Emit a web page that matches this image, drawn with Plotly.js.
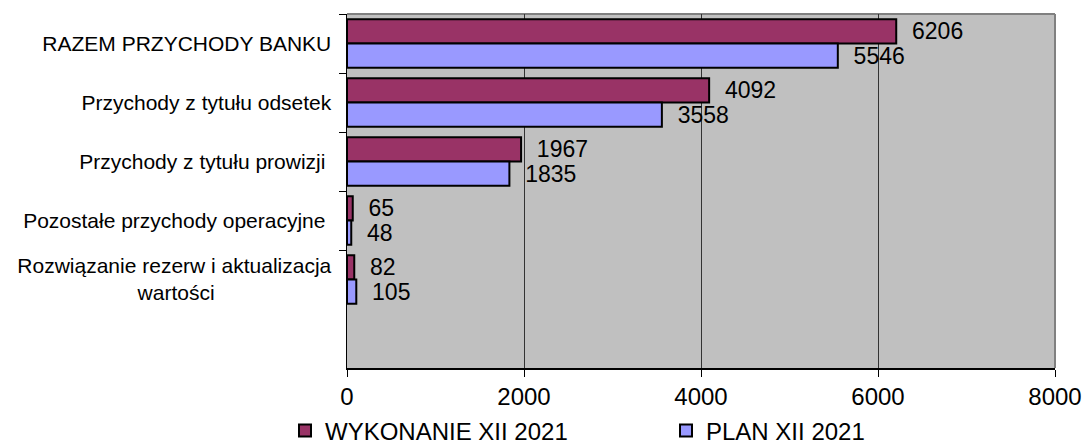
<!DOCTYPE html>
<html>
<head>
<meta charset="utf-8">
<script src="https://cdn.plot.ly/plotly-3.0.1.min.js"></script>
<style>html,body{margin:0;padding:0;background:#fff;}#chart{width:1084px;height:445px;}</style>
</head>
<body>
<div id="chart"></div>
<script>
var categories = [
  'RAZEM PRZYCHODY BANKU',
  'Przychody z tytułu odsetek',
  'Przychody z tytułu prowizji\u00a0',
  'Pozostałe przychody operacyjne\u00a0',
  'Rozwiązanie rezerw i aktualizacja<br>wartości' + '\u00a0'.repeat(20)
];
var wykonanie = [6206, 4092, 1967, 65, 82];
var plan = [5546, 3558, 1835, 48, 105];
var seriesNames = ['WYKONANIE XII 2021', 'PLAN XII 2021'];
var xTicks = [0, 2000, 4000, 6000, 8000];

var FONT = 'Liberation Sans, Arial, sans-serif';

function barTrace(name, vals, color, legendId) {
  return {
    type: 'bar', orientation: 'h', name: name,
    legend: legendId,
    y: categories, x: vals,
    marker: {color: color, line: {color: '#000000', width: 2}},
    text: vals.map(String),
    texttemplate: '\u00a0\u00a0%{x}',
    textposition: 'outside',
    constraintext: 'none',
    cliponaxis: false,
    textfont: {family: FONT, size: 23, color: '#000000'},
    hoverinfo: 'skip'
  };
}

var data = [
  barTrace(seriesNames[0], wykonanie, '#993366', 'legend'),
  barTrace(seriesNames[1], plan, '#9999FF', 'legend2')
];

function legendCfg(xpx) {
  return {
    orientation: 'h',
    xref: 'container', yref: 'container',
    x: xpx / 1084, y: 1 - 431 / 445, xanchor: 'left', yanchor: 'middle',
    font: {family: FONT, size: 24, color: '#000000'},
    itemwidth: 30,
    bgcolor: 'rgba(0,0,0,0)'
  };
}

var layout = {
  width: 1084, height: 445,
  margin: {l: 347, r: 29, t: 14, b: 77, pad: 0},
  paper_bgcolor: '#ffffff',
  plot_bgcolor: '#c0c0c0',
  barmode: 'group',
  bargap: 0.18,
  bargroupgap: 0,
  font: {family: FONT, color: '#000000'},
  showlegend: true,
  legend: legendCfg(285),
  legend2: legendCfg(666),
  xaxis: {
    range: [0, 8000],
    tickvals: xTicks,
    ticktext: xTicks.map(String),
    showgrid: true, gridcolor: '#333333', gridwidth: 1,
    zeroline: false,
    showline: true, linecolor: '#000000', linewidth: 1.5,
    ticks: 'outside', ticklen: 7, tickcolor: '#000000', tickwidth: 1,
    tickfont: {family: FONT, size: 24, color: '#000000'},
    fixedrange: true
  },
  yaxis: {
    type: 'category',
    categoryorder: 'array', categoryarray: categories,
    range: [5.5, -0.5],
    showgrid: false, zeroline: false,
    showline: true, linecolor: '#000000', linewidth: 1.5,
    ticks: 'outside', ticklen: 7, tickcolor: '#000000', tickwidth: 1,
    tickson: 'boundaries',
    tickfont: {family: FONT, size: 21, color: '#000000'},
    ticklabelstandoff: 10,
    fixedrange: true
  },
  shapes: [
    {type: 'line', xref: 'paper', yref: 'paper', x0: 0, x1: 1, y0: 1, y1: 1, line: {color: '#808080', width: 2}, layer: 'below'},
    {type: 'line', xref: 'paper', yref: 'paper', x0: 1, x1: 1, y0: 0, y1: 1, line: {color: '#808080', width: 2}, layer: 'below'}
  ]
};

Plotly.newPlot('chart', data, layout, {displayModeBar: false, staticPlot: true});
</script>
</body>
</html>
